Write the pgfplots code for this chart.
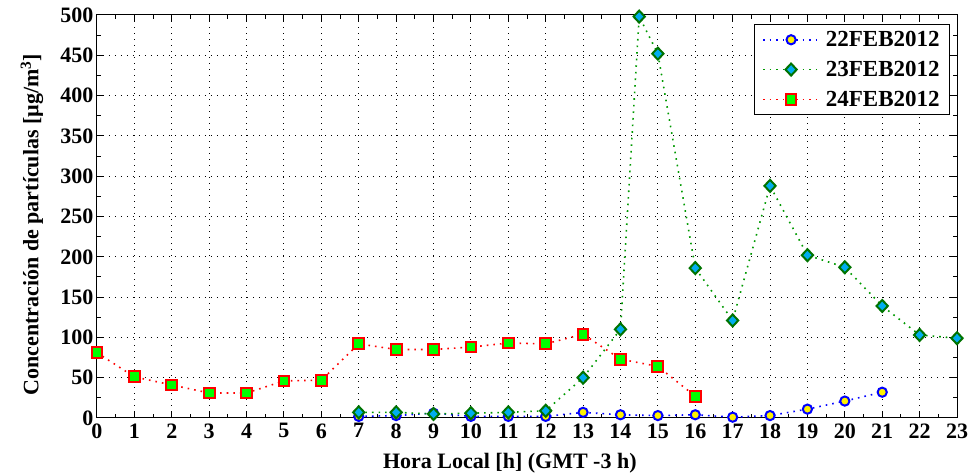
\documentclass[border=0pt]{standalone}
\usepackage{pgfplots}
\pgfplotsset{compat=1.18}
\usepackage{fontspec}
\setmainfont{Liberation Serif}
\definecolor{mlgreen}{rgb}{0,0.6,0}
\definecolor{mldkgreen}{rgb}{0,0.45,0}
\newcommand{\bigbf}{\bfseries\fontsize{22}{24}\selectfont}
\begin{document}
\begin{tikzpicture}
\begin{axis}[
  scale only axis, width=860pt, height=403pt,
  xmin=0, xmax=23, ymin=0, ymax=500,
  xtick={0,...,23}, ytick={0,50,...,500},
  minor x tick num=1, minor y tick num=1,
  tick align=inside,
  major tick length=7pt, minor tick length=4pt,
  every tick/.style={black, line width=1pt},
  grid=major,
  major grid style={black, line width=1pt, dash pattern=on 1pt off 5pt},
  axis line style={line width=1pt},
  /pgf/number format/assume math mode=true,
  tick label style={font=\bigbf},
  xticklabel style={yshift=-2pt},
  xlabel={Hora Local [h] (GMT -3 h)},
  ylabel={Concentración de partículas [µg/m\textsuperscript{3}]},
  label style={font=\bigbf},
  xlabel style={at={(axis description cs:0.48,0)}, anchor=center, yshift=-45pt},
  ylabel style={at={(axis description cs:0,0.48)}, anchor=center, yshift=65pt},
  legend style={at={(0.992,0.978)}, anchor=north east, draw=black, line width=1pt,
    font=\bfseries\fontsize{23}{25}\selectfont, row sep=9pt, column sep=4pt,
    inner xsep=8pt, inner ysep=5pt,
    nodes={fill=none},
    cells={anchor=west}},
  legend image code/.code={%
    \draw[mark=none] (0pt,0pt) -- (56pt,0pt);
    \draw plot coordinates {(28pt,0pt)};},
  every axis plot/.append style={line width=1.6pt, dash pattern=on 1.6pt off 5pt},
]
% 22 Feb 2012
\addplot[blue, mark=*, mark size=4.6pt,
  mark options={solid, draw=blue, fill=yellow, line width=2pt}]
  coordinates {(7,2) (8,3) (9,6) (10,2) (11,2) (12,2) (13,7) (14,4) (15,3)
    (16,4) (17,1) (18,3) (19,11) (20,21) (21,32)};
\addlegendentry{22FEB2012}
% 23 Feb 2012
\addplot[mlgreen, mark=diamond*, mark size=6pt,
  mark options={solid, draw=mldkgreen, fill=cyan, line width=2pt, xscale=1.25}]
  coordinates {(7,7) (8,7) (9,5) (10,6) (11,7) (12,9) (13,50) (14,110)
    (14.5,498) (15,452) (16,186) (17,121) (18,288) (19,202) (20,187)
    (21,139) (22,103) (23,99)};
\addlegendentry{23FEB2012}
% 24 Feb 2012
\addplot[red, mark=square*, mark size=5.4pt,
  mark options={solid, draw=red, fill=green, line width=2pt}]
  coordinates {(0,81) (1,51) (2,41) (3,31) (4,31) (5,46) (6,47) (7,92)
    (8,85) (9,85) (10,88) (11,93) (12,92) (13,104) (14,73) (15,64) (16,27)};
\addlegendentry{24FEB2012}
\end{axis}
% fixed margins around the axis
\pgfresetboundingbox
\path[use as bounding box]
  ([shift={(-97pt,-58pt)}]current axis.south west)
  rectangle ([shift={(23pt,15pt)}]current axis.north east);
\end{tikzpicture}
\end{document}
